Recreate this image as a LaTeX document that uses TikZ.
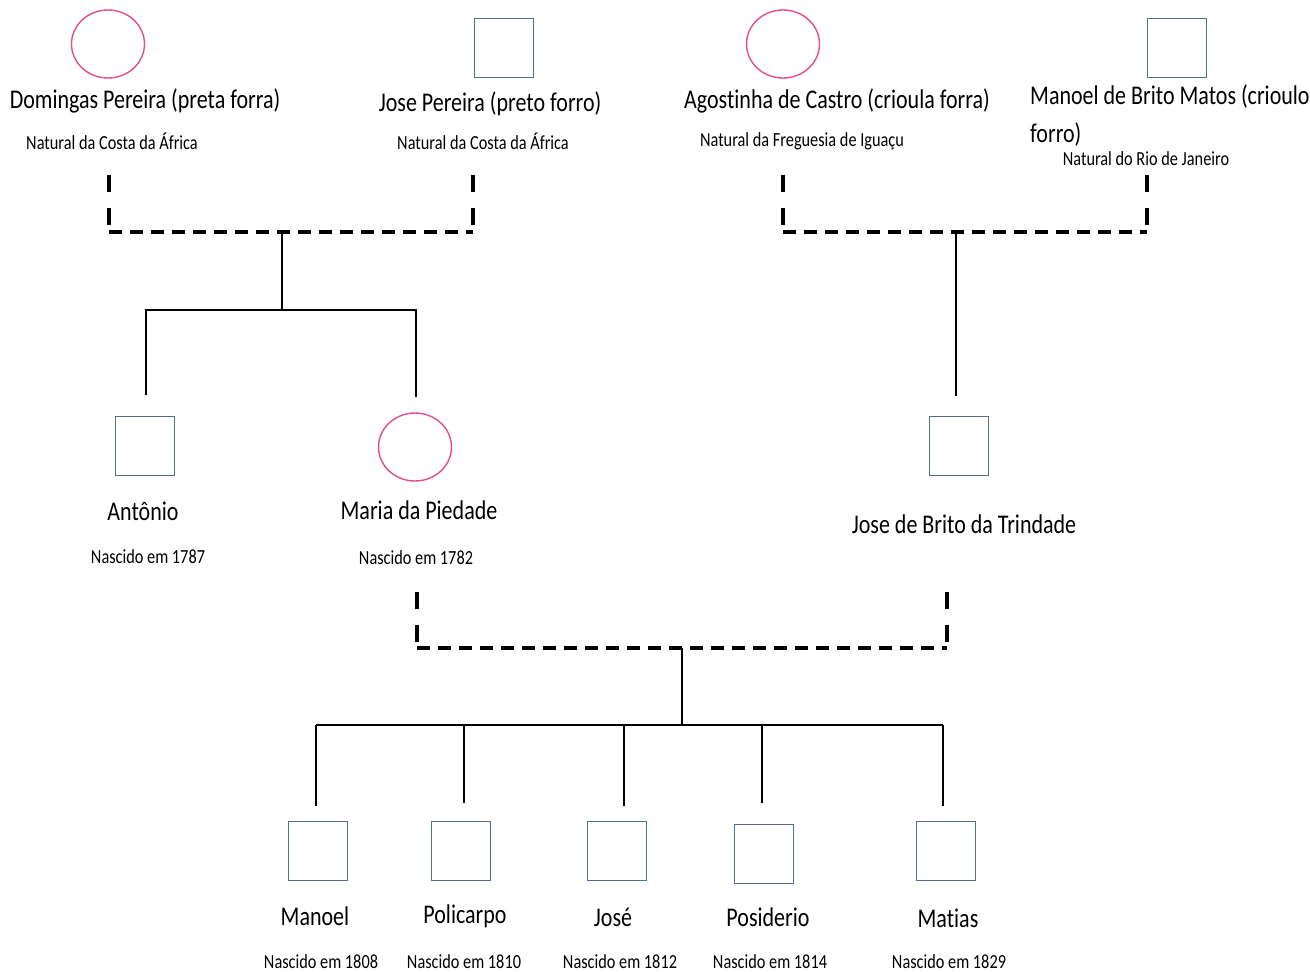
\documentclass[tikz,border=0pt]{standalone}
\usepackage{fontspec}
\setmainfont{Carlito}[FakeStretch=0.815, Ligatures=NoCommon]
\usetikzlibrary{shapes.geometric}
\definecolor{pinkc}{RGB}{226,78,140}
\definecolor{bluec}{RGB}{84,110,152}
\tikzset{
  fem/.style={ellipse, draw=pinkc, line width=1.4pt, minimum width=73pt, minimum height=68pt, inner sep=0pt},
  male/.style={rectangle, draw=bluec, line width=1.4pt, minimum width=59pt, minimum height=59pt, inner sep=0pt},
  pname/.style={font=\fontsize{27}{30}\selectfont, inner sep=0pt},
  info/.style={font=\fontsize{20}{22}\selectfont, inner sep=0pt},
  marrv/.style={line width=3.2pt, dash pattern=on 17pt off 16pt},
  marrh/.style={line width=3.2pt, dash pattern=on 13pt off 8pt},
  desc/.style={line width=2pt},
  sib/.style={line width=2.6pt},
}
\begin{document}
\begin{tikzpicture}[x=1pt,y=-1pt]
\useasboundingbox (0,0) rectangle (1310,972);
% ---- generation 1 ----
\node[fem]  (dom) at (108,44) {};
\node[male] (jp)  at (504,48) {};
\node[fem]  (ago) at (783,44) {};
\node[male] (mbm) at (1177,48) {};
\node[pname] (domL) at (145,101) {Domingas Pereira (preta forra)};
\node[info]  (domI) at (112,141) {Natural da Costa da África};
\node[pname] (jpL)  at (490,104) {Jose Pereira (preto forro)};
\node[info]  (jpI)  at (483,141) {Natural da Costa da África};
\node[pname] (agoL) at (837,101) {Agostinha de Castro (crioula forra)};
\node[info]  (agoI) at (802,141) {Natural da Freguesia de Iguaçu};
\node[pname, anchor=west, align=left, font=\fontsize{27}{38}\selectfont] (mbmL) at (1030,116) {Manoel de Brito Matos (crioulo\\forro)};
\node[info]  (mbmI) at (1146,159) {Natural do Rio de Janeiro};
% marriage 1
\coordinate (p1a) at (109,175);
\coordinate (p1b) at (473,175);
\coordinate (m1) at (282,232);
\draw[marrv] (p1a) -- (p1a |- m1);
\draw[marrv] (p1b) -- (p1b |- m1);
\draw[marrh] (p1a |- m1) -- (p1b |- m1);
% marriage 2
\coordinate (p2a) at (783,175);
\coordinate (p2b) at (1147,175);
\coordinate (m2) at (956,232);
\draw[marrv] (p2a) -- (p2a |- m2);
\draw[marrv] (p2b) -- (p2b |- m2);
\draw[marrh] (p2a |- m2) -- (p2b |- m2);
% ---- generation 2 ----
\node[male] (ant) at (145,446) {};
\node[fem]  (mar) at (415,447) {};
\node[male] (jbt) at (959,446) {};
\node[pname] (antL) at (143,511) {Antônio};
\node[info]  (antI) at (148,557) {Nascido em 1787};
\node[pname] (marL) at (419,510) {Maria da Piedade};
\node[info]  (marI) at (416,558) {Nascido em 1782};
\node[pname] (jbtL) at (964,524) {Jose de Brito da Trindade};
% descent 1
\coordinate (s1) at (282,310);
\coordinate (a1) at (146,395);
\coordinate (a2) at (416,397);
\draw[desc] (m1) -- (s1);
\draw[desc] (a1) |- (s1) -| (a2);
% descent 2
\coordinate (a3) at (956,396);
\draw[desc] (m2) -- (a3);
% marriage 3
\coordinate (p3a) at (417,592);
\coordinate (p3b) at (947,592);
\coordinate (m3) at (682,648);
\draw[marrv] (p3a) -- (p3a |- m3);
\draw[marrv] (p3b) -- (p3b |- m3);
\draw[marrh] (p3a |- m3) -- (p3b |- m3);
% ---- generation 3 ----
\node[male] (c1) at (318,851) {};
\node[male] (c2) at (461,851) {};
\node[male] (c3) at (617,851) {};
\node[male] (c4) at (764,854) {};
\node[male] (c5) at (946,851) {};
\node[pname] (c1L) at (315,916) {Manoel};
\node[pname] (c2L) at (465,916) {Policarpo};
\node[pname] (c3L) at (613,917) {José};
\node[pname] (c4L) at (768,917) {Posiderio};
\node[pname] (c5L) at (948,918) {Matias};
\node[info] (c1I) at (321,962) {Nascido em 1808};
\node[info] (c2I) at (464,962) {Nascido em 1810};
\node[info] (c3I) at (620,962) {Nascido em 1812};
\node[info] (c4I) at (770,962) {Nascido em 1814};
\node[info] (c5I) at (949,962) {Nascido em 1829};
% descent 3
\coordinate (s3) at (682,725);
\coordinate (b1) at (316,806);
\coordinate (b2) at (464,803);
\coordinate (b3) at (624,806);
\coordinate (b4) at (762,803);
\coordinate (b5) at (943,806);
\draw[desc] (m3) -- (s3);
\draw[sib] (b1 |- s3) -- (b5 |- s3);
\draw[desc] (b1 |- s3) -- (b1);
\draw[desc] (b2 |- s3) -- (b2);
\draw[desc] (b3 |- s3) -- (b3);
\draw[desc] (b4 |- s3) -- (b4);
\draw[desc] (b5 |- s3) -- (b5);
\end{tikzpicture}
\end{document}
